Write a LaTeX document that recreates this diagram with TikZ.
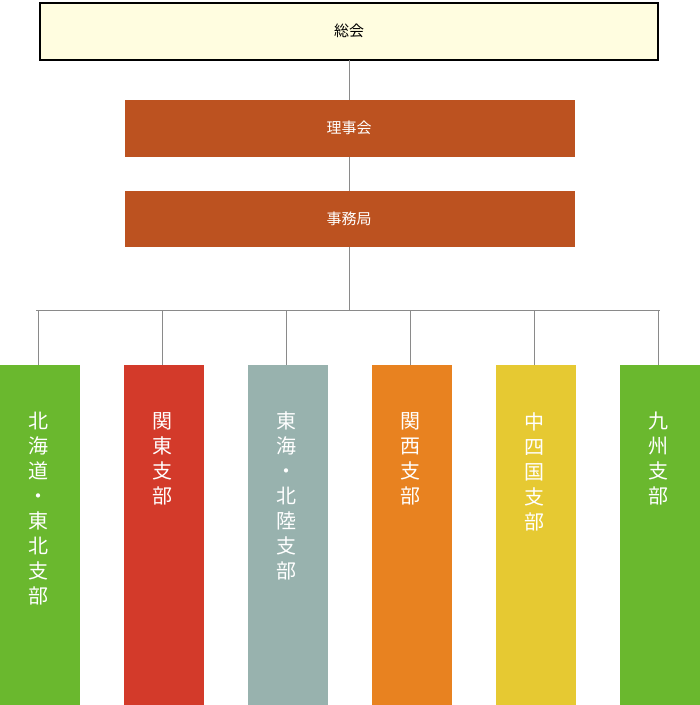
\documentclass[tikz,border=0pt]{standalone}
\usepackage{fontspec}
\setmainfont{Noto Sans CJK JP}
\definecolor{soukai}{HTML}{FFFDE0}
\definecolor{rust}{HTML}{BC5220}
\definecolor{leaf}{HTML}{6AB82E}
\definecolor{brick}{HTML}{D33A2A}
\definecolor{sage}{HTML}{98B2AE}
\definecolor{amber}{HTML}{E88220}
\definecolor{mustard}{HTML}{E6C932}
\definecolor{wire}{HTML}{8A8A8A}
\begin{document}
\begin{tikzpicture}[x=1pt,y=-1pt,
  bar/.style={draw=none,inner sep=0pt,text=white,font=\fontsize{15}{15}\selectfont},
  branch/.style={draw=none,inner sep=0pt,text=white,anchor=north,align=center,
    font=\fontsize{20}{25}\selectfont}]
  \useasboundingbox (0,0) rectangle (700,705);
  % top
  \filldraw[fill=soukai,draw=black,line width=2.5pt] (40,3) rectangle (658,60);
  \node[bar,text=black] (soukai) at (349,31) {総会};
  \fill[rust] (125,100) rectangle (575,157);
  \node[bar] (riji) at (349,128) {理事会};
  \fill[rust] (125,191) rectangle (575,247);
  \node[bar] (jimu) at (349,219) {事務局};
  \coordinate (s1) at (349,60);  \coordinate (r1) at (349,100);
  \coordinate (r2) at (349,157); \coordinate (j1) at (349,191);
  \coordinate (j2) at (349,247); \coordinate (hub) at (349,310);
  \draw[wire] (s1)--(r1) (r2)--(j1) (j2)--(hub);
  \draw[wire] (36,310)--(660,310);
  % branches
  \foreach \x/\c/\t [count=\i] in {
    0/leaf/北\\海\\道\\・\\東\\北\\支\\部,
    124/brick/関\\東\\支\\部,
    248/sage/東\\海\\・\\北\\陸\\支\\部,
    372/amber/関\\西\\支\\部,
    496/mustard/中\\四\\国\\支\\部,
    620/leaf/九\\州\\支\\部}{
    \fill[\c] (\x,365) rectangle ++(80,340);
    \draw[wire] (\x+38,310)--(\x+38,365);
    \node[branch] (b\i) at (\x+38,412) {\t};
  }
\end{tikzpicture}
\end{document}
